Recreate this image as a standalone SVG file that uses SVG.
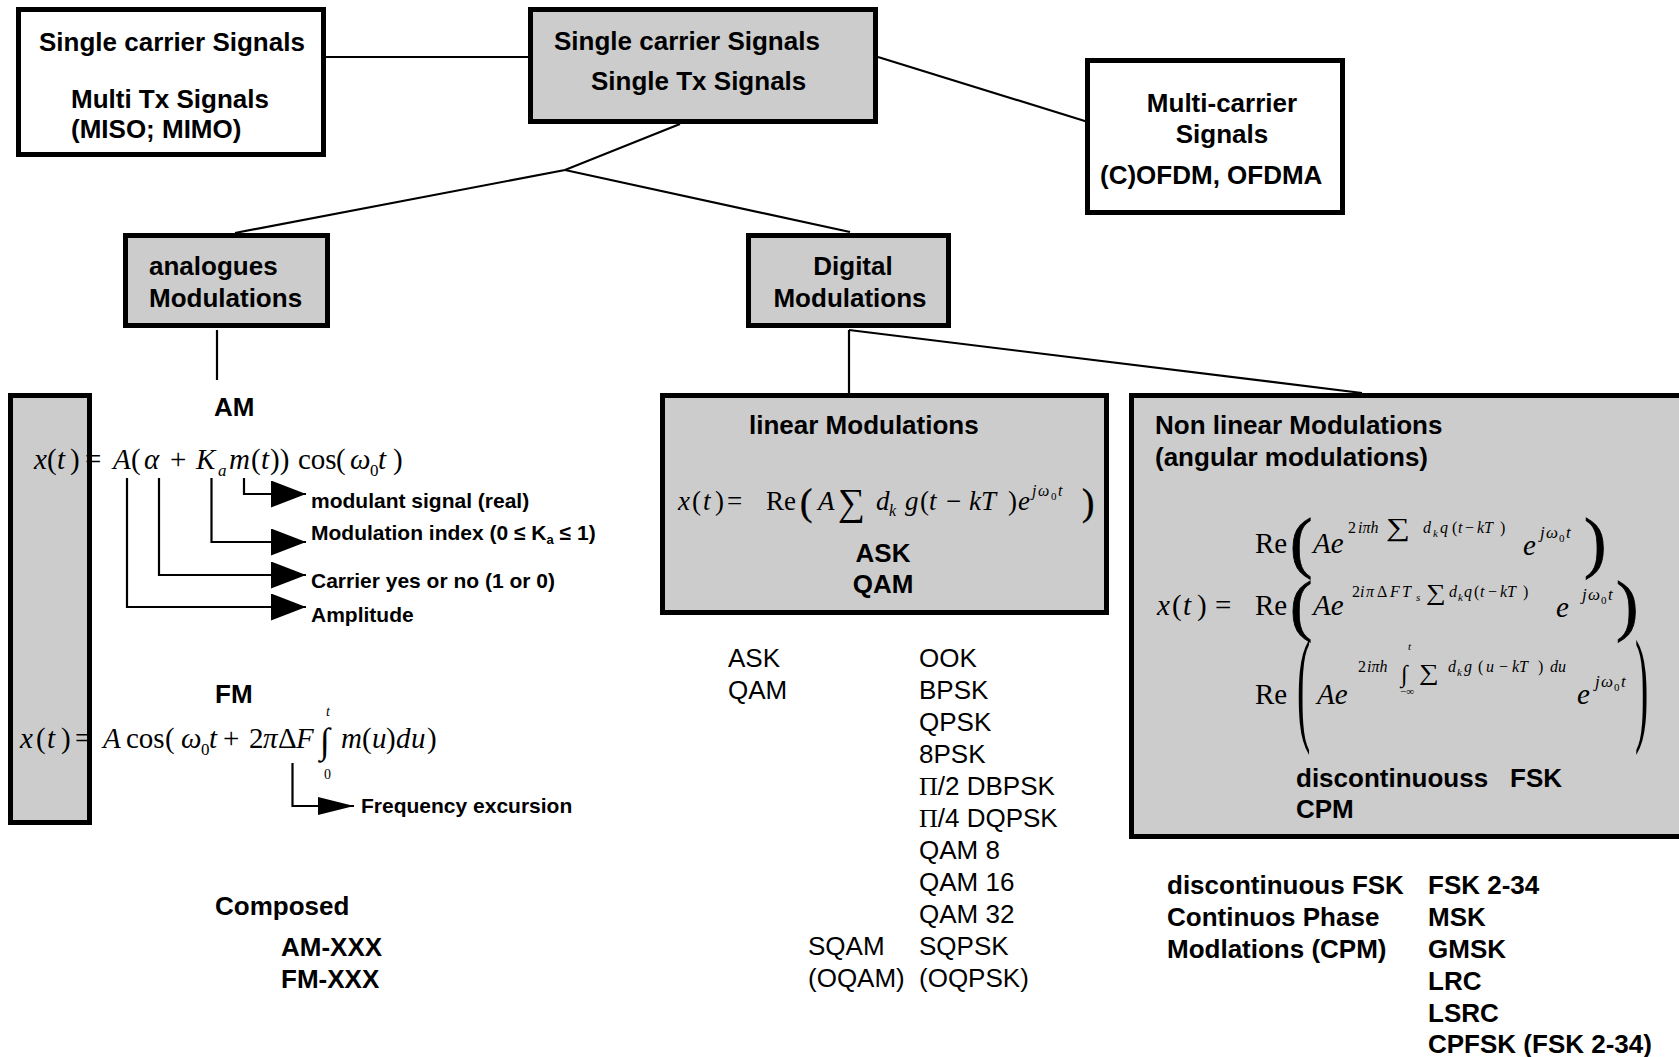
<svg xmlns="http://www.w3.org/2000/svg" width="1679" height="1057" viewBox="0 0 1679 1057">
<defs>
<style>
.box{stroke:#000;stroke-width:5}
.gray{fill:#cccccc}
.white{fill:#fff}
.ln{stroke:#000;stroke-width:2.2;fill:none}
.lb{font-family:"Liberation Sans",Arial,Helvetica,sans-serif;font-weight:bold;font-size:26px;fill:#000}
.lr{font-family:"Liberation Sans",Arial,Helvetica,sans-serif;font-size:26px;fill:#000}
.ls{font-family:"Liberation Sans",Arial,Helvetica,sans-serif;font-weight:bold;font-size:21px;fill:#000}
.ss{font-size:13px}
.mid{text-anchor:middle}
.m{font-family:"Liberation Serif","Times New Roman",serif;font-size:29px;fill:#000}
.m27{font-size:27px}
.i{font-style:italic}
.sub{font-size:17px}
.sup{font-size:16px}
.tiny{font-size:11px}
.pa{font-size:67px;stroke:#000;stroke-width:0.8}
.pl{font-size:37px;stroke:#000;stroke-width:0.5}
.pt{font-size:40px}
.sg{font-family:"Liberation Serif","Times New Roman",serif}
</style>
<marker id="arrow" markerUnits="userSpaceOnUse" viewBox="0 0 35 27" markerWidth="35" markerHeight="27" refX="35" refY="13.5" orient="auto"><path d="M0,0 L35,13.5 L0,27 Z" fill="#000"/></marker>
<marker id="arrowSm" markerUnits="userSpaceOnUse" viewBox="0 0 36 18" markerWidth="36" markerHeight="18" refX="36" refY="9" orient="auto"><path d="M0,0 L36,9 L0,18 Z" fill="#000"/></marker>
</defs>

<rect x="0" y="0" width="1679" height="1057" fill="#fff"/>

<!-- connectors of the tree and the formula call-outs -->
<g id="connectors">
  <path class="ln" d="M326,57 H530"/>
  <path class="ln" d="M680,124 L565,170 L235,233"/>
  <path class="ln" d="M565,170 L850,232"/>
  <path class="ln" d="M878,57 L1088,122"/>
  <path class="ln" d="M217,330 V380"/>
  <path class="ln" d="M849,330 V393"/>
  <path class="ln" d="M849,330 L1362,393"/>
  <path class="ln" d="M244,478 V494 H306" marker-end="url(#arrow)"/>
  <path class="ln" d="M211.5,478 V542 H306" marker-end="url(#arrow)"/>
  <path class="ln" d="M159,478 V575 H306" marker-end="url(#arrow)"/>
  <path class="ln" d="M127,478 V607 H306" marker-end="url(#arrow)"/>
  <path class="ln" d="M292.5,763 V806 H354" marker-end="url(#arrowSm)"/>
</g>

<!-- multi transmitter signals -->
<g id="node-multi-tx">
  <rect class="box white" x="18.5" y="9.5" width="305" height="145"/>
  <text class="lb" x="39" y="51">Single carrier Signals</text>
  <text class="lb" x="71" y="108">Multi Tx Signals</text>
  <text class="lb" x="71" y="138">(MISO; MIMO)</text>
</g>

<!-- single transmitter signals (root) -->
<g id="node-single-tx">
  <rect class="box gray" x="530.5" y="9.5" width="345" height="112"/>
  <text class="lb" x="554" y="50">Single carrier Signals</text>
  <text class="lb" x="591" y="90">Single Tx Signals</text>
</g>

<!-- multi-carrier signals -->
<g id="node-multicarrier">
  <rect class="box white" x="1087.5" y="60.5" width="255" height="152"/>
  <text class="lb mid" x="1222" y="112">Multi-carrier</text>
  <text class="lb mid" x="1222" y="143">Signals</text>
  <text class="lb" x="1100" y="184">(C)OFDM, OFDMA</text>
</g>

<!-- analogue branch -->
<g id="node-analog">
  <rect class="box gray" x="125.5" y="235.5" width="202" height="90"/>
  <text class="lb" x="149" y="275">analogues</text>
  <text class="lb" x="149" y="307">Modulations</text>
</g>

<!-- digital branch -->
<g id="node-digital">
  <rect class="box gray" x="748.5" y="235.5" width="200" height="90"/>
  <text class="lb mid" x="853" y="275">Digital</text>
  <text class="lb mid" x="850" y="307">Modulations</text>
</g>

<!-- analogue modulations: AM / FM formulas -->
<g id="node-analog-detail">
  <rect class="box gray" x="10.5" y="395.5" width="79" height="427"/>
  <text class="lb" x="214" y="416">AM</text>
  <text class="m" y="469"><tspan x="34" class="i">x</tspan><tspan x="47">(</tspan><tspan x="57" class="i">t</tspan><tspan x="70">)</tspan><tspan x="85">=</tspan><tspan x="113" class="i">A</tspan><tspan x="131">(</tspan><tspan x="144" class="i">α</tspan><tspan x="170">+</tspan><tspan x="196" class="i">K</tspan><tspan x="218" y="476" class="i sub">a</tspan><tspan x="229" y="469" class="i">m</tspan><tspan x="251">(</tspan><tspan x="261" class="i">t</tspan><tspan x="270">))</tspan><tspan x="298">cos</tspan><tspan x="336">(</tspan><tspan x="350" class="i">ω</tspan><tspan x="370" y="476" class="sub">0</tspan><tspan x="378" y="469" class="i">t</tspan><tspan x="393">)</tspan></text>
  <text class="ls" x="311" y="508">modulant signal (real)</text>
  <text class="ls" x="311" y="540">Modulation index (0 ≤ K<tspan class="ss" dy="4">a</tspan><tspan dy="-4"> ≤ 1)</tspan></text>
  <text class="ls" x="311" y="588">Carrier yes or no (1 or 0)</text>
  <text class="ls" x="311" y="622">Amplitude</text>

  <text class="lb" x="215" y="703">FM</text>
  <text class="m" y="748"><tspan x="20" class="i">x</tspan><tspan x="36">(</tspan><tspan x="47" class="i">t</tspan><tspan x="61">)</tspan><tspan x="75">=</tspan><tspan x="103" class="i">A</tspan><tspan x="126">cos</tspan><tspan x="165">(</tspan><tspan x="181" class="i">ω</tspan><tspan x="201" y="755" class="sub">0</tspan><tspan x="209" y="748" class="i">t</tspan><tspan x="223">+</tspan><tspan x="249">2</tspan><tspan x="263" class="i">π</tspan><tspan x="278">Δ</tspan><tspan x="296" class="i">F</tspan><tspan x="341" class="i">m</tspan><tspan x="362">(</tspan><tspan x="372" class="i">u</tspan><tspan x="386">)</tspan><tspan x="396" class="i">d</tspan><tspan x="411" class="i">u</tspan><tspan x="427">)</tspan></text>
  <text class="m" x="320" y="753" style="font-size:36px">∫</text>
  <text class="m i" x="326" y="716" style="font-size:14px">t</text>
  <text class="m" x="324" y="779" style="font-size:14px">0</text>
  <text class="ls" x="361" y="813">Frequency excursion</text>

  <text class="lb" x="215" y="915">Composed</text>
  <text class="lb" x="281" y="956">AM-XXX</text>
  <text class="lb" x="281" y="988">FM-XXX</text>
</g>

<!-- linear modulations -->
<g id="node-linear">
  <rect class="box gray" x="662.5" y="395.5" width="444" height="217"/>
  <text class="lb" x="749" y="434">linear Modulations</text>
  <text class="m m27" y="510"><tspan x="678" class="i">x</tspan><tspan x="692">(</tspan><tspan x="703" class="i">t</tspan><tspan x="715">)</tspan><tspan x="727">=</tspan></text>
  <text class="m m27" x="766" y="510">Re</text>
  <text class="m pl" x="800" y="515">(</text>
  <text class="m m27 i" x="818" y="510">A</text>
  <text class="m" x="838" y="515" style="font-size:38px">∑</text>
  <text class="m m27" y="510"><tspan x="876" class="i">d</tspan><tspan x="889" y="516" class="i sup">k</tspan><tspan x="905" y="510" class="i">g</tspan><tspan x="920">(</tspan><tspan x="929" class="i">t</tspan><tspan x="946">−</tspan><tspan x="969" class="i">kT</tspan><tspan x="1008">)</tspan><tspan x="1018" class="i">e</tspan></text>
  <text class="m" y="496"><tspan x="1032" class="i sup">j</tspan><tspan x="1038" class="i sup">ω</tspan><tspan x="1051" y="500" class="tiny">0</tspan><tspan x="1058" y="496" class="i sup">t</tspan></text>
  <text class="m pl" x="1082" y="515">)</text>
  <text class="lb mid" x="883" y="562">ASK</text>
  <text class="lb mid" x="883" y="593">QAM</text>
</g>

<!-- linear modulation families -->
<g id="node-linear-list">
  <text class="lr" x="728" y="667">ASK</text>
  <text class="lr" x="728" y="699">QAM</text>
  <text class="lr" x="919" y="667">OOK</text>
  <text class="lr" x="919" y="699">BPSK</text>
  <text class="lr" x="919" y="731">QPSK</text>
  <text class="lr" x="919" y="763">8PSK</text>
  <text class="lr" x="919" y="795"><tspan class="sg">Π</tspan>/2 DBPSK</text>
  <text class="lr" x="919" y="827"><tspan class="sg">Π</tspan>/4 DQPSK</text>
  <text class="lr" x="919" y="859">QAM 8</text>
  <text class="lr" x="919" y="891">QAM 16</text>
  <text class="lr" x="919" y="923">QAM 32</text>
  <text class="lr" x="808" y="955">SQAM</text>
  <text class="lr" x="919" y="955">SQPSK</text>
  <text class="lr" x="808" y="987">(OQAM)</text>
  <text class="lr" x="919" y="987">(OQPSK)</text>
</g>

<!-- non linear (angular) modulations -->
<g id="node-nonlinear">
  <rect class="box gray" x="1131.5" y="395.5" width="600" height="441"/>
  <text class="lb" x="1155" y="434">Non linear Modulations</text>
  <text class="lb" x="1155" y="466">(angular modulations)</text>

  <!-- big delimiters of the first two lines -->
  <text class="m pa"><tspan x="1290" y="565">(</tspan><tspan x="1290" y="628">(</tspan></text>
  <text class="m pa"><tspan x="1584" y="565">)</tspan><tspan x="1616" y="628">)</tspan></text>

  <!-- first line -->
  <text class="m" x="1255" y="553">Re</text>
  <text class="m i" x="1313" y="553">Ae</text>
  <text class="m i" x="1523" y="555">e</text>
  <text class="m sup" y="533"><tspan x="1348">2</tspan><tspan x="1358" class="i">iπh</tspan></text>
  <text class="m sup" y="533"><tspan x="1423" class="i">d</tspan><tspan x="1433" y="537" class="tiny i">k</tspan><tspan x="1440" y="533" class="i">q</tspan><tspan x="1452">(</tspan><tspan x="1458" class="i">t</tspan><tspan x="1465">−</tspan><tspan x="1477" class="i">kT</tspan><tspan x="1500">)</tspan></text>
  <text class="m" transform="translate(1386,536) scale(1.3,1)" style="font-size:26px">∑</text>
  <text class="m sub" y="538"><tspan x="1540" class="i">j</tspan><tspan x="1546" class="i">ω</tspan><tspan x="1559" y="542" class="tiny">0</tspan><tspan x="1566" y="538" class="i">t</tspan></text>

  <!-- second line -->
  <text class="m" y="615"><tspan x="1157" class="i">x</tspan><tspan x="1172">(</tspan><tspan x="1183" class="i">t</tspan><tspan x="1197">)</tspan><tspan x="1215">=</tspan></text>
  <text class="m" x="1255" y="615">Re</text>
  <text class="m i" x="1313" y="615">Ae</text>
  <text class="m i" x="1556" y="617">e</text>
  <text class="m sup" y="597"><tspan x="1352">2</tspan><tspan x="1360" class="i">i</tspan><tspan x="1366" class="i">π</tspan><tspan x="1377">Δ</tspan><tspan x="1390" class="i">F</tspan><tspan x="1402" class="i">T</tspan><tspan x="1416" y="601" class="tiny i">s</tspan></text>
  <text class="m sup" y="597"><tspan x="1449" class="i">d</tspan><tspan x="1458" y="601" class="tiny i">k</tspan><tspan x="1464" y="597" class="i">q</tspan><tspan x="1474">(</tspan><tspan x="1480" class="i">t</tspan><tspan x="1488">−</tspan><tspan x="1500" class="i">kT</tspan><tspan x="1523">)</tspan></text>
  <text class="m" transform="translate(1426,600) scale(1.2,1)" style="font-size:23px">∑</text>
  <text class="m sub" y="600"><tspan x="1582" class="i">j</tspan><tspan x="1588" class="i">ω</tspan><tspan x="1601" y="604" class="tiny">0</tspan><tspan x="1608" y="600" class="i">t</tspan></text>

  <!-- third line -->
  <text class="m" x="1255" y="704">Re</text>
  <text class="m i" x="1317" y="704">Ae</text>
  <text class="m i" x="1577" y="704">e</text>
  <text class="m pt" transform="translate(1297,728) scale(1,3.2)">(</text>
  <text class="m pt" transform="translate(1635,728) scale(1,3.2)">)</text>
  <text class="m sup" y="672"><tspan x="1358">2</tspan><tspan x="1367" class="i">iπh</tspan></text>
  <text class="m sup" y="672"><tspan x="1448" class="i">d</tspan><tspan x="1457" y="676" class="tiny i">k</tspan><tspan x="1464" y="672" class="i">g</tspan><tspan x="1478">(</tspan><tspan x="1486" class="i">u</tspan><tspan x="1499">−</tspan><tspan x="1512" class="i">kT</tspan><tspan x="1538">)</tspan><tspan x="1550" class="i">du</tspan></text>
  <text class="m" x="1401" y="682" style="font-size:24px">∫</text>
  <text class="m i tiny" x="1408" y="650">t</text>
  <text class="m tiny" x="1400" y="695">−∞</text>
  <text class="m" transform="translate(1419,680) scale(1.2,1)" style="font-size:23px">∑</text>
  <text class="m sub" y="687"><tspan x="1595" class="i">j</tspan><tspan x="1601" class="i">ω</tspan><tspan x="1614" y="691" class="tiny">0</tspan><tspan x="1621" y="687" class="i">t</tspan></text>

  <text class="lb" x="1296" y="787">discontinuouss<tspan x="1510">FSK</tspan></text>
  <text class="lb" x="1296" y="818">CPM</text>
</g>

<!-- non linear modulation families -->
<g id="node-nonlinear-list">
  <text class="lb" x="1167" y="894">discontinuous FSK</text>
  <text class="lb" x="1167" y="926">Continuos Phase</text>
  <text class="lb" x="1167" y="958">Modlations (CPM)</text>
  <text class="lb" x="1428" y="894">FSK 2-34</text>
  <text class="lb" x="1428" y="926">MSK</text>
  <text class="lb" x="1428" y="958">GMSK</text>
  <text class="lb" x="1428" y="990">LRC</text>
  <text class="lb" x="1428" y="1022">LSRC</text>
  <text class="lb" x="1428" y="1053">CPFSK (FSK 2-34)</text>
</g>
</svg>
